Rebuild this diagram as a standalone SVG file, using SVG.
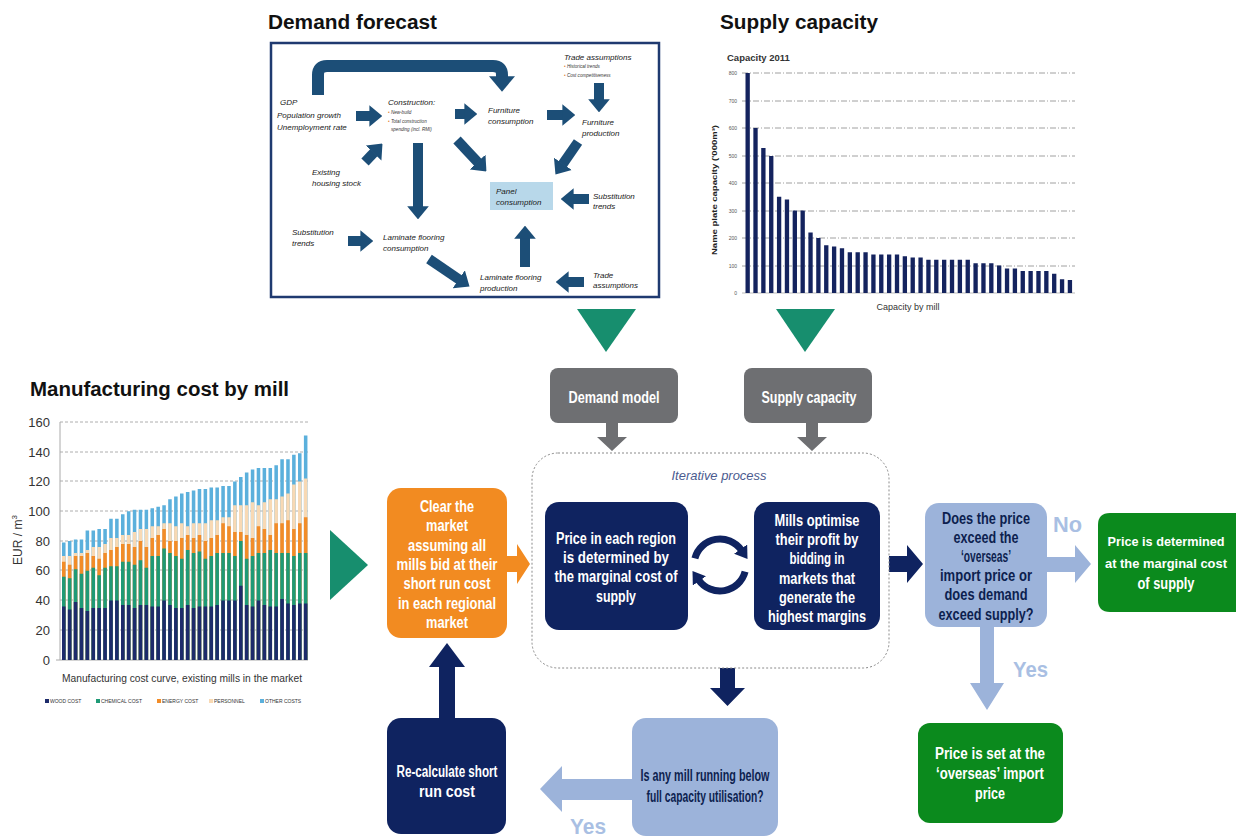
<svg xmlns="http://www.w3.org/2000/svg" width="1236" height="839" viewBox="0 0 1236 839">
<defs>
<style>
.ttl{font-family:"Liberation Sans",Arial,sans-serif;font-weight:bold;font-size:20px;fill:#111}
.df{font-family:"Liberation Sans",Arial,sans-serif;font-style:italic;font-size:8px;fill:#1a1a1a}
.sm{font-family:"Liberation Sans",Arial,sans-serif;font-style:italic;font-size:4.6px;fill:#333}
.bw{font-family:"Liberation Sans",Arial,sans-serif;font-weight:bold;font-size:16px;fill:#fff;text-anchor:middle}
.bd{font-family:"Liberation Sans",Arial,sans-serif;font-weight:bold;font-size:16px;fill:#0d1f4f;text-anchor:middle}
.lab{font-family:"Liberation Sans",Arial,sans-serif;font-weight:bold;font-size:22px;fill:#a9bfe3}
.ax{font-family:"Liberation Sans",Arial,sans-serif;font-size:13px;fill:#333;text-anchor:end}
.sx{font-family:"Liberation Sans",Arial,sans-serif;font-size:5px;fill:#555;text-anchor:end}
.lg{font-family:"Liberation Sans",Arial,sans-serif;font-size:5px;fill:#333}
.darr{fill:none;stroke:#1c4e77;stroke-width:10;marker-end:url(#dh)}
.navy{fill:#0f2360}
.lb{fill:#9cb3da}
.grn{fill:#0b8a1d}
.gry{fill:#6e6f72}
.tri{fill:#178e6e}
.grid{stroke:#999;stroke-width:0.8;stroke-dasharray:3 2}
.sgrid{stroke:#888;stroke-width:0.8;stroke-dasharray:6 2 1 2}
</style>
<marker id="dh" viewBox="0 0 6 10" markerWidth="1.3" markerHeight="2.2" refX="0.3" refY="5" orient="auto" markerUnits="strokeWidth"><path d="M0,0L6,5L0,10z" fill="#1c4e77"/></marker>
<marker id="ch" viewBox="0 0 10 10" markerWidth="12" markerHeight="16" refX="1" refY="5" orient="auto" markerUnits="userSpaceOnUse" preserveAspectRatio="none"><path d="M0,0L10,5L0,10z" fill="#0f2360"/></marker>
</defs>
<rect width="1236" height="839" fill="#fff"/>

<!-- Titles -->
<text class="ttl" x="268" y="29" textLength="169" lengthAdjust="spacingAndGlyphs">Demand forecast</text>
<text class="ttl" x="720" y="29" textLength="158" lengthAdjust="spacingAndGlyphs">Supply capacity</text>
<text class="ttl" x="30" y="396" textLength="259" lengthAdjust="spacingAndGlyphs">Manufacturing cost by mill</text>

<!-- Demand forecast panel -->
<g id="demand-forecast">
<rect x="271" y="43" width="388" height="254" fill="#fff" stroke="#1f3a70" stroke-width="2.5"/>
<path d="M318,95V75Q318,66 327,66H493Q502,66 502,75V77" fill="none" stroke="#1c4e77" stroke-width="12" marker-end="url(#dh)"/>
<line class="darr" x1="356" y1="116" x2="370" y2="116"/>
<line class="darr" x1="365" y1="162" x2="374" y2="152.5"/>
<line class="darr" x1="455" y1="114" x2="465" y2="114"/>
<line class="darr" x1="457" y1="140" x2="478" y2="162.5"/>
<line class="darr" x1="547" y1="115" x2="563" y2="115"/>
<line class="darr" x1="599" y1="83" x2="599" y2="100"/>
<line class="darr" x1="578" y1="142" x2="562.5" y2="164.4"/>
<line class="darr" x1="418" y1="143" x2="418" y2="207"/>
<line class="darr" x1="589" y1="199" x2="573" y2="199"/>
<line class="darr" x1="348" y1="241" x2="361" y2="241"/>
<line class="darr" x1="429" y1="259" x2="459.3" y2="279.6"/>
<line class="darr" x1="525" y1="267" x2="525" y2="238"/>
<line class="darr" x1="584" y1="282" x2="568" y2="282"/>
<rect x="490" y="182" width="63" height="28" fill="#b8d8ea"/>
<text class="df" x="280" y="105">GDP</text>
<text class="df" x="277" y="118">Population growth</text>
<text class="df" x="277" y="130">Unemployment rate</text>
<text class="df" x="388" y="105">Construction:</text>
<text class="sm" x="388" y="114"><tspan fill="#e07b2a">•</tspan> New-build</text>
<text class="sm" x="388" y="123"><tspan fill="#e07b2a">•</tspan> Total construction</text>
<text class="sm" x="391" y="131">spending (incl. RMI)</text>
<text class="df" x="488" y="113">Furniture</text>
<text class="df" x="488" y="124">consumption</text>
<text class="df" x="564" y="60">Trade assumptions</text>
<text class="sm" x="564" y="68"><tspan fill="#e07b2a">•</tspan> Historical trends</text>
<text class="sm" x="564" y="77"><tspan fill="#e07b2a">•</tspan> Cost competitiveness</text>
<text class="df" x="582" y="125">Furniture</text>
<text class="df" x="582" y="136">production</text>
<text class="df" x="312" y="175">Existing</text>
<text class="df" x="312" y="186">housing stock</text>
<text class="df" x="496" y="194">Panel</text>
<text class="df" x="496" y="205">consumption</text>
<text class="df" x="593" y="199">Substitution</text>
<text class="df" x="593" y="209">trends</text>
<text class="df" x="292" y="235">Substitution</text>
<text class="df" x="292" y="246">trends</text>
<text class="df" x="383" y="240">Laminate flooring</text>
<text class="df" x="383" y="251">consumption</text>
<text class="df" x="480" y="280">Laminate flooring</text>
<text class="df" x="480" y="291">production</text>
<text class="df" x="593" y="278">Trade</text>
<text class="df" x="593" y="288">assumptions</text>
</g>

<!-- Supply capacity chart -->
<g id="supply-chart">
<text x="727" y="61" font-family="Liberation Sans, Arial, sans-serif" font-weight="bold" font-size="9.5" fill="#333">Capacity 2011</text>
<g>
<line class="sgrid" x1="742" y1="73" x2="1075" y2="73"/>
<line class="sgrid" x1="742" y1="101" x2="1075" y2="101"/>
<line class="sgrid" x1="742" y1="128" x2="1075" y2="128"/>
<line class="sgrid" x1="742" y1="156" x2="1075" y2="156"/>
<line class="sgrid" x1="742" y1="183" x2="1075" y2="183"/>
<line class="sgrid" x1="742" y1="211" x2="1075" y2="211"/>
<line class="sgrid" x1="742" y1="238" x2="1075" y2="238"/>
<line class="sgrid" x1="742" y1="266" x2="1075" y2="266"/>
<line x1="742" y1="293" x2="1075" y2="293" stroke="#aaa" stroke-width="0.8"/>
</g>
<text class="sx" x="737" y="75">800</text>
<text class="sx" x="737" y="103">700</text>
<text class="sx" x="737" y="130">600</text>
<text class="sx" x="737" y="158">500</text>
<text class="sx" x="737" y="185">400</text>
<text class="sx" x="737" y="213">300</text>
<text class="sx" x="737" y="240">200</text>
<text class="sx" x="737" y="268">100</text>
<text class="sx" x="737" y="295">0</text>
<path fill="#14235e" transform="translate(745.5,293) scale(7.86,-0.275)" d="M0 0h.55v800h-.55z m1 0h.55v600h-.55z m1 0h.55v527h-.55z m1 0h.55v498h-.55z m1 0h.55v350h-.55z m1 0h.55v340h-.55z m1 0h.55v300h-.55z m1 0h.55v300h-.55z m1 0h.55v220h-.55z m1 0h.55v200h-.55z m1 0h.55v174h-.55z m1 0h.55v169h-.55z m1 0h.55v163h-.55z m1 0h.55v148h-.55z m1 0h.55v148h-.55z m1 0h.55v148h-.55z m1 0h.55v140h-.55z m1 0h.55v140h-.55z m1 0h.55v140h-.55z m1 0h.55v140h-.55z m1 0h.55v134h-.55z m1 0h.55v129h-.55z m1 0h.55v129h-.55z m1 0h.55v121h-.55z m1 0h.55v121h-.55z m1 0h.55v121h-.55z m1 0h.55v121h-.55z m1 0h.55v121h-.55z m1 0h.55v121h-.55z m1 0h.55v108h-.55z m1 0h.55v108h-.55z m1 0h.55v108h-.55z m1 0h.55v100h-.55z m1 0h.55v89h-.55z m1 0h.55v89h-.55z m1 0h.55v80h-.55z m1 0h.55v80h-.55z m1 0h.55v80h-.55z m1 0h.55v80h-.55z m1 0h.55v70h-.55z m1 0h.55v50h-.55z m1 0h.55v47h-.55z"/>
<text transform="translate(717,190) rotate(-90)" text-anchor="middle" font-family="Liberation Sans, Arial, sans-serif" font-weight="bold" font-size="8" fill="#222" textLength="130" lengthAdjust="spacingAndGlyphs">Name plate capacity ('000m³)</text>
<text x="908" y="310" text-anchor="middle" font-family="Liberation Sans, Arial, sans-serif" font-size="9" fill="#333">Capacity by mill</text>
</g>

<!-- Manufacturing cost chart -->
<g id="cost-chart">
<line class="grid" x1="60" y1="422" x2="308" y2="422"/>
<line class="grid" x1="60" y1="452" x2="308" y2="452"/>
<line class="grid" x1="60" y1="481" x2="308" y2="481"/>
<line class="grid" x1="60" y1="511" x2="308" y2="511"/>
<line class="grid" x1="60" y1="541" x2="308" y2="541"/>
<line class="grid" x1="60" y1="570" x2="308" y2="570"/>
<line class="grid" x1="60" y1="600" x2="308" y2="600"/>
<line class="grid" x1="60" y1="630" x2="308" y2="630"/>
<line x1="60" y1="422" x2="60" y2="660" stroke="#aaa" stroke-width="1"/>
<line x1="56" y1="660" x2="308" y2="660" stroke="#aaa" stroke-width="1"/>
<text class="ax" x="50" y="427">160</text>
<text class="ax" x="50" y="457">140</text>
<text class="ax" x="50" y="486">120</text>
<text class="ax" x="50" y="516">100</text>
<text class="ax" x="50" y="546">80</text>
<text class="ax" x="50" y="575">60</text>
<text class="ax" x="50" y="605">40</text>
<text class="ax" x="50" y="635">20</text>
<text class="ax" x="50" y="665">0</text>
<text transform="translate(22,540) rotate(-90)" text-anchor="middle" font-family="Liberation Sans, Arial, sans-serif" font-size="12" fill="#333">EUR / m<tspan font-size="8" dy="-5">3</tspan></text>
<g transform="translate(62,660) scale(5.9,-1.4875)">
<path fill="#5bb0dc" d="M0 0h.6v79h-.6z m1 0h.6v80h-.6z m1 0h.6v81h-.6z m1 0h.6v81h-.6z m1 0h.6v87h-.6z m1 0h.6v87h-.6z m1 0h.6v88h-.6z m1 0h.6v88h-.6z m1 0h.6v95h-.6z m1 0h.6v95h-.6z m1 0h.6v98h-.6z m1 0h.6v100h-.6z m1 0h.6v101h-.6z m1 0h.6v101h-.6z m1 0h.6v101h-.6z m1 0h.6v102h-.6z m1 0h.6v103h-.6z m1 0h.6v104h-.6z m1 0h.6v108h-.6z m1 0h.6v110h-.6z m1 0h.6v112h-.6z m1 0h.6v113h-.6z m1 0h.6v114h-.6z m1 0h.6v115h-.6z m1 0h.6v115h-.6z m1 0h.6v116h-.6z m1 0h.6v116h-.6z m1 0h.6v117h-.6z m1 0h.6v117h-.6z m1 0h.6v120h-.6z m1 0h.6v123h-.6z m1 0h.6v126h-.6z m1 0h.6v128h-.6z m1 0h.6v129h-.6z m1 0h.6v129h-.6z m1 0h.6v129h-.6z m1 0h.6v131h-.6z m1 0h.6v135h-.6z m1 0h.6v135h-.6z m1 0h.6v138h-.6z m1 0h.6v139h-.6z m1 0h.6v151h-.6z"/>
<path fill="#f8d9b4" d="M0 0h.6v70h-.6z m1 0h.6v70h-.6z m1 0h.6v72h-.6z m1 0h.6v72h-.6z m1 0h.6v74h-.6z m1 0h.6v76h-.6z m1 0h.6v76h-.6z m1 0h.6v78h-.6z m1 0h.6v82h-.6z m1 0h.6v82h-.6z m1 0h.6v84h-.6z m1 0h.6v84h-.6z m1 0h.6v86h-.6z m1 0h.6v88h-.6z m1 0h.6v88h-.6z m1 0h.6v90h-.6z m1 0h.6v90h-.6z m1 0h.6v92h-.6z m1 0h.6v92h-.6z m1 0h.6v90h-.6z m1 0h.6v92h-.6z m1 0h.6v90h-.6z m1 0h.6v92h-.6z m1 0h.6v92h-.6z m1 0h.6v92h-.6z m1 0h.6v94h-.6z m1 0h.6v94h-.6z m1 0h.6v96h-.6z m1 0h.6v96h-.6z m1 0h.6v104h-.6z m1 0h.6v104h-.6z m1 0h.6v104h-.6z m1 0h.6v106h-.6z m1 0h.6v104h-.6z m1 0h.6v106h-.6z m1 0h.6v108h-.6z m1 0h.6v108h-.6z m1 0h.6v110h-.6z m1 0h.6v112h-.6z m1 0h.6v118h-.6z m1 0h.6v120h-.6z m1 0h.6v122h-.6z"/>
<path fill="#f28c28" d="M0 0h.6v66h-.6z m1 0h.6v64h-.6z m1 0h.6v70h-.6z m1 0h.6v70h-.6z m1 0h.6v72h-.6z m1 0h.6v70h-.6z m1 0h.6v68h-.6z m1 0h.6v72h-.6z m1 0h.6v74h-.6z m1 0h.6v76h-.6z m1 0h.6v78h-.6z m1 0h.6v78h-.6z m1 0h.6v76h-.6z m1 0h.6v80h-.6z m1 0h.6v76h-.6z m1 0h.6v82h-.6z m1 0h.6v84h-.6z m1 0h.6v88h-.6z m1 0h.6v80h-.6z m1 0h.6v80h-.6z m1 0h.6v82h-.6z m1 0h.6v84h-.6z m1 0h.6v82h-.6z m1 0h.6v84h-.6z m1 0h.6v80h-.6z m1 0h.6v82h-.6z m1 0h.6v84h-.6z m1 0h.6v92h-.6z m1 0h.6v90h-.6z m1 0h.6v86h-.6z m1 0h.6v86h-.6z m1 0h.6v84h-.6z m1 0h.6v82h-.6z m1 0h.6v90h-.6z m1 0h.6v88h-.6z m1 0h.6v84h-.6z m1 0h.6v92h-.6z m1 0h.6v92h-.6z m1 0h.6v94h-.6z m1 0h.6v88h-.6z m1 0h.6v92h-.6z m1 0h.6v96h-.6z"/>
<path fill="#1f9a76" d="M0 0h.6v56h-.6z m1 0h.6v55h-.6z m1 0h.6v61h-.6z m1 0h.6v58h-.6z m1 0h.6v60h-.6z m1 0h.6v62h-.6z m1 0h.6v57h-.6z m1 0h.6v62h-.6z m1 0h.6v63h-.6z m1 0h.6v63h-.6z m1 0h.6v66h-.6z m1 0h.6v66h-.6z m1 0h.6v64h-.6z m1 0h.6v67h-.6z m1 0h.6v62h-.6z m1 0h.6v70h-.6z m1 0h.6v70h-.6z m1 0h.6v75h-.6z m1 0h.6v72h-.6z m1 0h.6v70h-.6z m1 0h.6v68h-.6z m1 0h.6v74h-.6z m1 0h.6v72h-.6z m1 0h.6v73h-.6z m1 0h.6v68h-.6z m1 0h.6v70h-.6z m1 0h.6v72h-.6z m1 0h.6v72h-.6z m1 0h.6v72h-.6z m1 0h.6v70h-.6z m1 0h.6v80h-.6z m1 0h.6v68h-.6z m1 0h.6v70h-.6z m1 0h.6v72h-.6z m1 0h.6v72h-.6z m1 0h.6v74h-.6z m1 0h.6v72h-.6z m1 0h.6v72h-.6z m1 0h.6v72h-.6z m1 0h.6v70h-.6z m1 0h.6v72h-.6z m1 0h.6v72h-.6z"/>
<path fill="#1d2b6b" d="M0 0h.6v36h-.6z m1 0h.6v34h-.6z m1 0h.6v39h-.6z m1 0h.6v35h-.6z m1 0h.6v33h-.6z m1 0h.6v35h-.6z m1 0h.6v35h-.6z m1 0h.6v35h-.6z m1 0h.6v40h-.6z m1 0h.6v40h-.6z m1 0h.6v37h-.6z m1 0h.6v37h-.6z m1 0h.6v35h-.6z m1 0h.6v37h-.6z m1 0h.6v37h-.6z m1 0h.6v36h-.6z m1 0h.6v36h-.6z m1 0h.6v40h-.6z m1 0h.6v37h-.6z m1 0h.6v35h-.6z m1 0h.6v35h-.6z m1 0h.6v37h-.6z m1 0h.6v35h-.6z m1 0h.6v36h-.6z m1 0h.6v36h-.6z m1 0h.6v36h-.6z m1 0h.6v37h-.6z m1 0h.6v40h-.6z m1 0h.6v40h-.6z m1 0h.6v40h-.6z m1 0h.6v50h-.6z m1 0h.6v37h-.6z m1 0h.6v36h-.6z m1 0h.6v40h-.6z m1 0h.6v37h-.6z m1 0h.6v36h-.6z m1 0h.6v36h-.6z m1 0h.6v41h-.6z m1 0h.6v38h-.6z m1 0h.6v37h-.6z m1 0h.6v38h-.6z m1 0h.6v38h-.6z"/>
</g>
<text x="62" y="682" font-family="Liberation Sans, Arial, sans-serif" font-size="10" fill="#333" textLength="240" lengthAdjust="spacingAndGlyphs">Manufacturing cost curve, existing mills in the market</text>
<rect x="45" y="699" width="4" height="4" fill="#1d2b6b"/><text class="lg" x="50" y="703">WOOD COST</text>
<rect x="96" y="699" width="4" height="4" fill="#1f9a76"/><text class="lg" x="101" y="703">CHEMICAL COST</text>
<rect x="157" y="699" width="4" height="4" fill="#f28c28"/><text class="lg" x="162" y="703">ENERGY COST</text>
<rect x="209" y="699" width="4" height="4" fill="#f8d9b4"/><text class="lg" x="214" y="703">PERSONNEL</text>
<rect x="260" y="699" width="4" height="4" fill="#5bb0dc"/><text class="lg" x="265" y="703">OTHER COSTS</text>
</g>

<!-- Connectors -->
<g id="connectors">
<polygon class="tri" points="577,309 636,309 606,352"/>
<polygon class="tri" points="776,309 835,309 805,352"/>
<polygon class="tri" points="330,530 368,565 330,600"/>
<polygon class="gry" points="606,422 618,422 618,437 627,437 612,451 597,437 606,437"/>
<polygon class="gry" points="806,422 818,422 818,437 827,437 812,451 797,437 806,437"/>
<polygon fill="#f28b21" points="506,556 517,556 517,544 530,564 517,584 517,572 506,572"/>
<polygon class="navy" points="889,556 907,556 907,545 923,564 907,583 907,572 889,572"/>
<polygon class="lb" points="1047,557 1075,557 1075,545 1091,564 1075,583 1075,572 1047,572"/>
<polygon class="lb" points="980,627 994,627 994,683 1004,683 987,710 970,683 980,683"/>
<polygon class="navy" points="720,668 735,668 735,688 745,688 727.5,706 710,688 720,688"/>
<polygon class="lb" points="632,779 562,779 562,766 540,789 562,812 562,800 632,800"/>
<polygon class="navy" points="439,718 455,718 455,667 465,667 447,643 429,667 439,667"/>
<path d="M694.9,558.3A26,26 0 0 1 741.3,550.1" fill="none" stroke="#0f2360" stroke-width="7" marker-end="url(#ch)"/>
<path d="M745.1,571.7A26,26 0 0 1 698.7,579.9" fill="none" stroke="#0f2360" stroke-width="7" marker-end="url(#ch)"/>
<text class="lab" x="1053" y="532" textLength="29" lengthAdjust="spacingAndGlyphs">No</text>
<text class="lab" x="1013" y="677" textLength="35" lengthAdjust="spacingAndGlyphs">Yes</text>
<text class="lab" x="570" y="834" textLength="36" lengthAdjust="spacingAndGlyphs">Yes</text>
</g>

<!-- Nodes -->
<g id="demand-model">
<rect class="gry" x="550" y="368" width="128" height="55" rx="8"/>
<text class="bw" x="614" y="403" textLength="91" lengthAdjust="spacingAndGlyphs">Demand model</text>
</g>
<g id="supply-capacity">
<rect class="gry" x="744" y="368" width="128" height="55" rx="8"/>
<text class="bw" x="809" y="403" textLength="95" lengthAdjust="spacingAndGlyphs">Supply capacity</text>
</g>
<g id="iterative-process">
<rect x="532" y="453" width="357" height="215" rx="26" fill="none" stroke="#8a8a8a" stroke-width="1" stroke-dasharray="2 2"/>
<text x="719" y="480" text-anchor="middle" font-family="Liberation Sans, Arial, sans-serif" font-style="italic" font-size="13" fill="#4b5b8f" textLength="95" lengthAdjust="spacingAndGlyphs">Iterative process</text>
</g>
<g id="clear-market">
<rect x="387" y="488" width="120" height="150" rx="14" fill="#f28b21"/>
<text class="bw" x="447" y="512" textLength="54" lengthAdjust="spacingAndGlyphs">Clear the</text>
<text class="bw" x="447" y="531" textLength="42" lengthAdjust="spacingAndGlyphs">market</text>
<text class="bw" x="447" y="551" textLength="78" lengthAdjust="spacingAndGlyphs">assuming all</text>
<text class="bw" x="447" y="570" textLength="101" lengthAdjust="spacingAndGlyphs">mills bid at their</text>
<text class="bw" x="447" y="589" textLength="87" lengthAdjust="spacingAndGlyphs">short run cost</text>
<text class="bw" x="447" y="609" textLength="98" lengthAdjust="spacingAndGlyphs">in each regional</text>
<text class="bw" x="447" y="628" textLength="42" lengthAdjust="spacingAndGlyphs">market</text>
</g>
<g id="price-region">
<rect class="navy" x="545" y="502" width="143" height="128" rx="14"/>
<text class="bw" x="616" y="544" textLength="120" lengthAdjust="spacingAndGlyphs">Price in each region</text>
<text class="bw" x="616" y="563" textLength="106" lengthAdjust="spacingAndGlyphs">is determined by</text>
<text class="bw" x="616" y="582" textLength="123" lengthAdjust="spacingAndGlyphs">the marginal cost of</text>
<text class="bw" x="616" y="602" textLength="40" lengthAdjust="spacingAndGlyphs">supply</text>
</g>
<g id="mills-optimise">
<rect class="navy" x="754" y="502" width="126" height="128" rx="14"/>
<text class="bw" x="817" y="526" textLength="85" lengthAdjust="spacingAndGlyphs">Mills optimise</text>
<text class="bw" x="817" y="545" textLength="83" lengthAdjust="spacingAndGlyphs">their profit by</text>
<text class="bw" x="817" y="564" textLength="55" lengthAdjust="spacingAndGlyphs">bidding in</text>
<text class="bw" x="817" y="584" textLength="76" lengthAdjust="spacingAndGlyphs">markets that</text>
<text class="bw" x="817" y="603" textLength="76" lengthAdjust="spacingAndGlyphs">generate the</text>
<text class="bw" x="817" y="622" textLength="98" lengthAdjust="spacingAndGlyphs">highest margins</text>
</g>
<g id="decision-price">
<rect class="lb" x="925" y="503" width="122" height="124" rx="14"/>
<text class="bd" x="986" y="524" textLength="88" lengthAdjust="spacingAndGlyphs">Does the price</text>
<text class="bd" x="986" y="543" textLength="65" lengthAdjust="spacingAndGlyphs">exceed the</text>
<text class="bd" x="986" y="562" textLength="50" lengthAdjust="spacingAndGlyphs">‘overseas’</text>
<text class="bd" x="986" y="581" textLength="92" lengthAdjust="spacingAndGlyphs">import price or</text>
<text class="bd" x="986" y="600" textLength="83" lengthAdjust="spacingAndGlyphs">does demand</text>
<text class="bd" x="986" y="620" textLength="95" lengthAdjust="spacingAndGlyphs">exceed supply?</text>
</g>
<g id="price-marginal">
<path class="grn" d="M1110,513H1236V612H1110Q1098,612 1098,600V525Q1098,513 1110,513z"/>
<text class="bw" x="1166" y="546" style="font-size:13.5px" textLength="117" lengthAdjust="spacingAndGlyphs">Price is determined</text>
<text class="bw" x="1166" y="568" style="font-size:13.5px" textLength="122" lengthAdjust="spacingAndGlyphs">at the marginal cost</text>
<text class="bw" x="1166" y="589" textLength="57" lengthAdjust="spacingAndGlyphs">of supply</text>
</g>
<g id="price-import">
<rect class="grn" x="918" y="723" width="145" height="100" rx="12"/>
<text class="bw" x="990" y="759" textLength="110" lengthAdjust="spacingAndGlyphs">Price is set  at the</text>
<text class="bw" x="990" y="779" textLength="108" lengthAdjust="spacingAndGlyphs">‘overseas’ import</text>
<text class="bw" x="990" y="799" textLength="30" lengthAdjust="spacingAndGlyphs">price</text>
</g>
<g id="below-capacity">
<rect class="lb" x="632" y="718" width="146" height="118" rx="14"/>
<text class="bd" x="705" y="781" textLength="129" lengthAdjust="spacingAndGlyphs">Is any mill running below</text>
<text class="bd" x="705" y="802" textLength="117" lengthAdjust="spacingAndGlyphs">full capacity utilisation?</text>
</g>
<g id="recalculate">
<rect class="navy" x="387" y="718" width="119" height="116" rx="14"/>
<text class="bw" x="447" y="777" textLength="101" lengthAdjust="spacingAndGlyphs">Re-calculate short</text>
<text class="bw" x="447" y="797" textLength="56" lengthAdjust="spacingAndGlyphs">run cost</text>
</g>
</svg>
